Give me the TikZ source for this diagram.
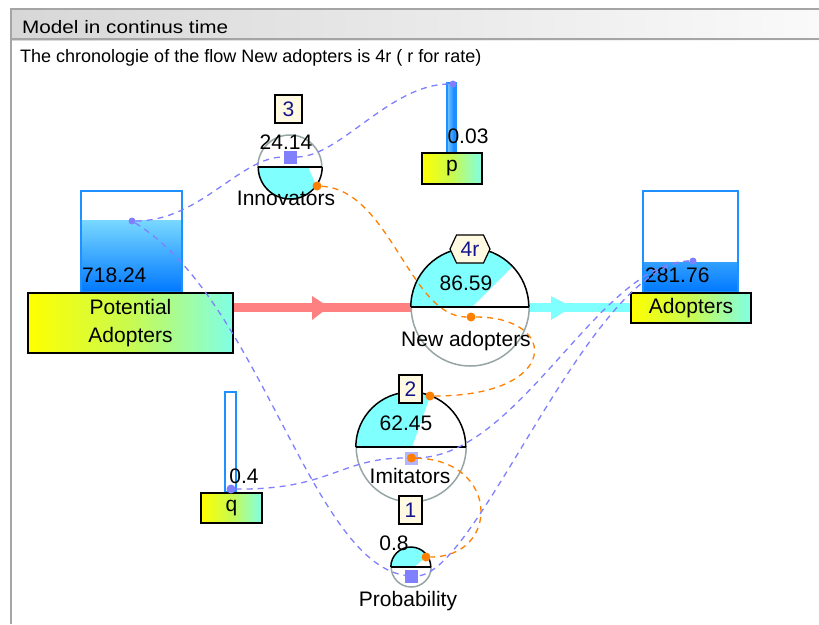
\documentclass[tikz,border=0pt]{standalone}
\usepackage{fontspec}
\setmainfont{Liberation Sans}
\newfontfamily\hdrfont{Liberation Sans}[FakeStretch=1.15]
\usetikzlibrary{positioning, shapes.symbols}

\definecolor{pipered}{RGB}{255,128,128}
\definecolor{pipecyan}{RGB}{128,255,255}
\definecolor{tankblue}{RGB}{30,144,255}
\definecolor{levelcyan}{RGB}{128,255,255}
\definecolor{inflblue}{RGB}{128,128,255}
\definecolor{inflorange}{RGB}{255,128,0}
\definecolor{tagcream}{RGB}{255,250,225}
\definecolor{tagblue}{RGB}{20,20,140}
\definecolor{rimgrey}{RGB}{150,165,165}
\definecolor{framegrey}{RGB}{165,165,165}

\begin{document}
\begin{tikzpicture}[x=1pt, y=-1pt, font=\fontsize{21}{24}\selectfont,
    tank/.style={draw=tankblue, line width=1.5pt, inner sep=0pt},
    level/.style={top color={rgb,255:red,170;green,255;blue,255}, bottom color={rgb,255:red,0;green,120;blue,255}},
    namebox/.style={draw=black, line width=1.5pt, inner sep=0pt, align=center,
        left color=yellow, right color={rgb,255:red,128;green,255;blue,230}, middle color={rgb,255:red,200;green,250;blue,80}},
    tagbox/.style={draw=black, line width=1.2pt, fill=tagcream, text=tagblue, inner sep=0pt, minimum height=28pt},
    gauge/.style={circle, inner sep=0pt},
    rim/.style={line width=1.5pt},
    infl/.style={draw=inflblue, line width=1.3pt, dash pattern=on 6pt off 5pt},
    oinfl/.style={draw=inflorange, line width=1.3pt, dash pattern=on 6pt off 5pt},
    bdot/.style={circle, fill=inflblue, inner sep=0pt, minimum size=7pt},
    odot/.style={circle, fill=inflorange, inner sep=0pt, minimum size=9pt},
    bsq/.style={fill=inflblue, inner sep=0pt, minimum size=13pt},
    lbl/.style={anchor=base, inner sep=0pt},
    hdr/.style={anchor=base west, inner sep=0pt, font=\hdrfont\fontsize{18}{20}\selectfont},
    pipe/.style={line width=9pt},
]
\useasboundingbox (0,0) rectangle (819,624);
\fill[white] (0,0) rectangle (819,624);

% window frame
\shade[left color={rgb,255:red,215;green,215;blue,215}, right color={rgb,255:red,250;green,250;blue,250}] (10,8) rectangle (819,40);
\draw[line width=2pt, framegrey] (10,9) -- (819,9) (10,39) -- (819,39);
\draw[line width=2.5pt, framegrey] (11,8) -- (11,624);
\node[hdr] (title) at (22,33) {Model in continus time};
\node[hdr, font=\fontsize{18}{20}\selectfont] (note) at (20,62) {The chronologie of the flow New adopters is 4r ( r for rate)};

% stocks
\begin{scope}
  \clip (81,220) rectangle (182,292);
  \shade[level] (81,191) rectangle (182,292);
\end{scope}
\node[tank, minimum width=101pt, minimum height=101pt] (patank) at (131.5,241.5) {};
\node[lbl, anchor=base west] (paval) at (82,282) {718.24};
\node[namebox, minimum width=205pt, minimum height=60pt, font=\fontsize{21}{28}\selectfont] (pa) at (130.5,323) {Potential\\Adopters};

\begin{scope}
  \clip (643,262) rectangle (738,292);
  \shade[level] (643,191) rectangle (738,292);
\end{scope}
\node[tank, minimum width=95pt, minimum height=101pt] (adtank) at (690.5,241.5) {};
\node[lbl, anchor=base west] (adval) at (645,282) {281.76};
\node[namebox, minimum width=120pt, minimum height=30pt] (ad) at (691,308) {Adopters};

% flow
\node[gauge, minimum size=118pt] (newad) at (470,307) {};
\draw[pipe, pipered] (newad -| pa.east) -- (newad.west);
\fill[pipered] (312,296) -- (329,307) -- (312,320) -- cycle;
\draw[pipe, pipecyan] (newad.east) -- (newad -| ad.west);
\fill[pipecyan] (551,296) -- (572,307) -- (551,320) -- cycle;
\begin{scope}
  \clip (470,307) circle (59);
  \fill[levelcyan] (405,307) -- (472,307) -- (535,244) -- (405,244) -- cycle;
\end{scope}
\draw[rim] (newad.west) arc[start angle=180, end angle=360, radius=59];
\draw[rim, rimgrey] (newad.east) arc[start angle=0, end angle=180, radius=59];
\draw[rim] (newad.west) -- (newad.east);
\node[tagbox, signal, signal to=east and west, signal pointer angle=130, minimum width=40pt] (newadtag) at (470,249) {4r};
\node[lbl] (newadval) at (466,290) {86.59};
\node[lbl] (newadlbl) at (466,346) {New adopters};

% auxiliaries
\node[gauge, minimum size=64pt] (inno) at (290,167) {};
\begin{scope}
  \clip (290,167) circle (32);
  \fill[levelcyan] (255,167) -- (308,167) -- (330,216) -- (255,216) -- cycle;
\end{scope}
\draw[rim, rimgrey] (inno.west) arc[start angle=180, end angle=360, radius=32];
\draw[rim] (inno.east) arc[start angle=0, end angle=180, radius=32];
\draw[rim] (inno.west) -- (inno.east);
\node[bsq] (innosq) at (290,157) {};
\node[tagbox, minimum width=27pt] (innotag) at (288.5,109) {3};
\node[lbl] (innoval) at (286,149) {24.14};
\node[lbl] (innolbl) at (286,205) {Innovators};

\node[gauge, minimum size=110pt] (imi) at (411,447) {};
\begin{scope}
  \clip (411,447) circle (55);
  \fill[levelcyan] (350,447) -- (412,447) -- (436,380) -- (350,380) -- cycle;
\end{scope}
\draw[rim] (imi.west) arc[start angle=180, end angle=360, radius=55];
\draw[rim, rimgrey] (imi.east) arc[start angle=0, end angle=180, radius=55];
\draw[rim] (imi.west) -- (imi.east);
\node[bsq, fill=inflblue!60] (imisq) at (411.5,458) {};
\node[tagbox, minimum width=23pt] (imitag) at (410.5,389) {2};
\node[lbl] (imival) at (406,430) {62.45};
\node[lbl] (imilbl) at (410,483) {Imitators};

\node[gauge, minimum size=40pt] (prob) at (411,567) {};
\begin{scope}
  \clip (411,567) circle (20);
  \fill[levelcyan] (388,567) -- (414,567) -- (438,547) -- (388,545) -- cycle;
\end{scope}
\draw[rim] (prob.west) arc[start angle=180, end angle=360, radius=20];
\draw[rim, rimgrey] (prob.east) arc[start angle=0, end angle=180, radius=20];
\draw[rim] (prob.west) -- (prob.east);
\node[bsq] (probsq) at (411.5,576.5) {};
\node[tagbox, minimum width=23pt] (probtag) at (410.5,510) {1};
\node[lbl] (probval) at (394,550) {0.8};
\node[lbl] (problbl) at (408,606) {Probability};

% constants
\shade[left color={rgb,255:red,120;green,200;blue,255}, right color={rgb,255:red,0;green,120;blue,255}] (447,83) rectangle (456,153);
\node[tank, minimum width=9pt, minimum height=70pt] (pbar) at (451.5,118) {};
\node[lbl] (pval) at (468,143) {0.03};
\node[namebox, minimum width=60pt, minimum height=31pt] (pbox) at (452,168.5) {p};

\node[tank, minimum width=11pt, minimum height=100pt] (qbar) at (230.5,442) {};
\node[lbl] (qval) at (244,483) {0.4};
\node[namebox, minimum width=61pt, minimum height=30pt] (qbox) at (231.5,508) {q};

% influence dots
\node[bdot] (padot) at (132,221) {};
\node[bdot] (addot) at (693,261) {};
\node[bdot] (pdot) at (453,84) {};
\node[bdot, minimum size=9pt] (qdot) at (231,489) {};
\node[odot] (innodot) at (317,186) {};
\node[odot] (newaddot) at (471,317) {};
\node[odot] (imidot) at (430,396) {};
\node[odot] (imiodot) at (411.5,458) {};
\node[odot] (probdot) at (426,557) {};

% influences
\draw[infl] (padot) .. controls (200,221) and (240,157) .. (innosq);
\draw[infl] (innosq) .. controls (340,157) and (390,84) .. (pdot);
\draw[infl] (padot) .. controls (260,300) and (310,560) .. (probsq);
\draw[infl] (addot) .. controls (600,262) and (520,455) .. (imisq);
\draw[infl] (addot) .. controls (590,265) and (480,570) .. (probsq);
\draw[infl] (qdot) .. controls (330,490) and (340,458) .. (imisq);
\draw[oinfl] (innodot) .. controls (390,190) and (410,317) .. (newaddot);
\draw[oinfl] (imidot) .. controls (560,396) and (560,317) .. (newaddot);
\draw[oinfl] (imiodot) .. controls (500,460) and (500,557) .. (probdot);
\end{tikzpicture}
\end{document}
